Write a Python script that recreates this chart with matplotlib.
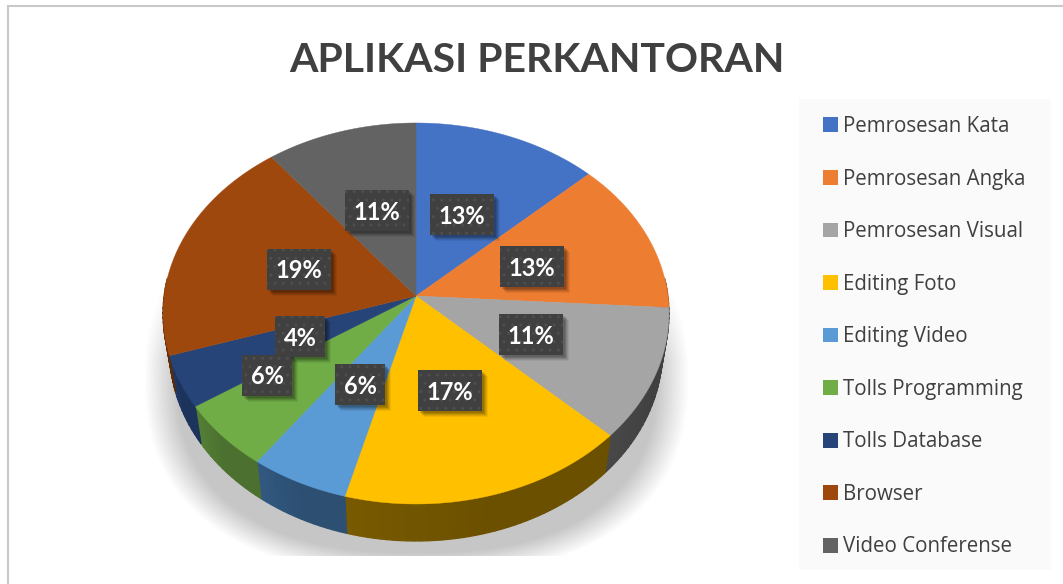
import numpy as np
import matplotlib
matplotlib.use('Agg')
import matplotlib.pyplot as plt
from matplotlib.patches import Rectangle
from matplotlib.colors import to_rgb

# --- data ---
categories = ['Pemrosesan Kata', 'Pemrosesan Angka', 'Pemrosesan Visual', 'Editing Foto',
              'Editing Video', 'Tolls Programming', 'Tolls Database', 'Browser', 'Video Conferense']
values = [13.0, 13.0, 11.2, 17.0, 5.8, 5.7, 4.4, 19.45, 10.55]
colors = ['#4472C4', '#ED7D31', '#A5A5A5', '#FFC000', '#5B9BD5', '#70AD47', '#264478', '#9E480E', '#636363']
side_colors = ['#2A4478', '#8E4B1D', '#404040', '#6B5000', '#2C4F72', '#4B7030', '#1C335C', '#5E2B08', '#3B3B3B']
title = 'APLIKASI PERKANTORAN'

# label box centres in pixels, same order as values
label_pos = [(462, 214), (532, 266), (531, 334), (450, 390), (360, 384),
             (267, 375), (300, 336), (299, 269), (377, 210)]

# --- pie geometry (pixels) ---
cx, cy = 416, 296
R, S, k = 251.9, 188.9, 0.0918
depth = 37


def project(t):
    # tilted circle, t runs clockwise from the top
    x = np.sin(t)
    y = -np.cos(t)
    w = 1 - k * y
    return cx + R * x / w, cy + S * y / w


fig = plt.figure(figsize=(10.63, 5.84), dpi=100)
ax = fig.add_axes([0, 0, 1, 1])
ax.axis('off')

# chart frame
ax.add_patch(Rectangle((8, 6), 1080, 620, fc='white', ec='#C8C8C8', lw=1.5, zorder=0))

# soft shadow under the pie, cut flat at the bottom
yy, xx = np.mgrid[200:556, 130:705]
d = (np.abs((xx - 416) / 272.0) ** 2.4 + np.abs((yy - 378) / 198.0) ** 2.4) ** (1 / 2.4)
a = np.clip((1.0 - d) / 0.12, 0, 1)
a *= np.clip((yy - 240) / 120.0, 0, 1)
shadow = np.zeros(a.shape + (4,))
shadow[..., :3] = 0.78
shadow[..., 3] = a
ax.imshow(shadow, extent=(130, 705, 556, 200), zorder=1, interpolation='bilinear', aspect='auto')
ax.set_xlim(0, 1063)
ax.set_ylim(584, 0)

# slice angles from the values
edges = np.concatenate([[0], np.cumsum(values)]) / np.sum(values) * 2 * np.pi

# side wall, only the lower half is visible
for i, col in enumerate(side_colors):
    t0 = max(edges[i], np.pi * 0.47)
    t1 = min(edges[i + 1], np.pi * 1.53)
    if t1 <= t0:
        continue
    base = np.array(to_rgb(col))
    n = max(int((t1 - t0) * 40), 2)
    ts = np.linspace(t1, t0, n + 1)
    for j in range(n):
        tt = np.linspace(ts[j], ts[j + 1], 4)
        xs, ys = project(tt)
        xb = cx + (xs - cx) * 0.974
        yb = ys + depth
        shade = 1 + 0.12 * (1 - min(j / max(n * 0.5, 1), 1))
        c = np.clip(base * shade, 0, 1)
        ax.fill(np.r_[xs, xb[::-1]], np.r_[ys, yb[::-1]], fc=c, ec=c, lw=0.9, zorder=2)

# top face
for i, col in enumerate(colors):
    tt = np.linspace(edges[i], edges[i + 1], 120)
    xs, ys = project(tt)
    ax.fill(np.r_[cx, xs], np.r_[cy, ys], color=col, lw=0.3, zorder=3)

# data labels
for v, (lx, ly) in zip(values, label_pos):
    txt = f'{v:.0f}%'
    w = 64 if len(txt) == 3 else 50
    h = 41
    for off, al in [(6, 0.06), (5, 0.08), (4, 0.10), (3, 0.12), (2, 0.12)]:
        ax.add_patch(Rectangle((lx - w / 2 + off, ly - h / 2 + off), w, h, fc='black', alpha=al, lw=0, zorder=4))
    ax.add_patch(Rectangle((lx - w / 2, ly - h / 2), w, h, fc='#404040', ec='#4E4E4E', hatch='..', lw=0, zorder=5))
    ax.text(lx, ly + 2, txt, color='white', fontsize=17, fontweight='bold', family='Lato',
            ha='center', va='center', zorder=6)

ax.text(537, 60, title, color='#404040', fontsize=29.5, fontweight='bold', family='Lato',
        ha='center', va='center', zorder=6)

# legend
ax.add_patch(Rectangle((799, 99), 252, 471, fc='#FAFAFA', lw=0, zorder=1))
handles = [Rectangle((0, 0), 1, 1, fc=c, lw=0) for c in colors]
leg = ax.legend(handles, categories, loc='upper left', bbox_to_anchor=(823, 116),
                bbox_transform=ax.transData, frameon=False, ncol=1,
                prop={'family': 'Open Sans', 'size': 14.8},
                labelcolor='#404040', handlelength=0.73, handleheight=0.73,
                handletextpad=0.25, labelspacing=1.535, borderpad=0, borderaxespad=0)
leg.set_zorder(6)

plt.savefig('out.png', dpi=100)
plt.close()
